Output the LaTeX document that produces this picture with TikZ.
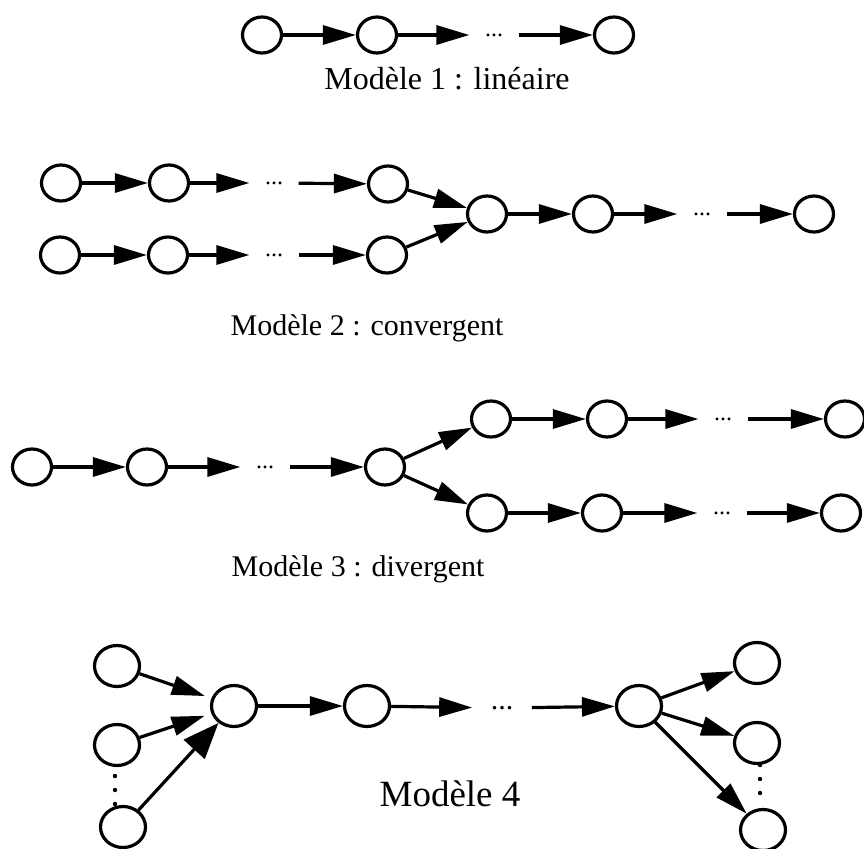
\documentclass[tikz,border=0pt]{standalone}
\usepackage{fontspec}
\setmainfont{Liberation Serif}
\usetikzlibrary{arrows.meta, shapes.geometric}

\begin{document}
\begin{tikzpicture}[x=1pt, y=-1pt, line width=3.2pt,
 main node/.style={ellipse,draw,minimum width=39pt,minimum height=36pt,inner sep=0pt},
 big node/.style={ellipse,draw,minimum width=45pt,minimum height=41pt,inner sep=0pt},
 etc node/.style={inner xsep=14pt,inner ysep=0pt,font=\fontsize{24}{24}\selectfont},
 arr/.style={-{Triangle[length=33pt,width=19pt]}},
 label text/.style={anchor=base,font=\fontsize{30}{36}\selectfont}]

  \useasboundingbox (0,0) rectangle (864,848);

  % modele 1
  \node[main node] (a1) at (262,35) {};
  \node[main node] (a2) at (377,35) {};
  \node[etc node]  (ad) at (494,35) {...};
  \node[main node] (a3) at (614,35) {};
  \node[label text, font=\fontsize{32}{38}\selectfont] (t1) at (447,90) {Modèle 1 : linéaire};

  % modele 2
  \node[main node] (b1) at (61,183) {};
  \node[main node] (b2) at (169,183) {};
  \node[etc node]  (bd) at (274,183) {...};
  \node[main node] (b3) at (388,184) {};
  \node[main node] (c1) at (60,255) {};
  \node[main node] (c2) at (168,255) {};
  \node[etc node]  (cd) at (274,255) {...};
  \node[main node] (c3) at (387,255) {};
  \node[main node] (b4) at (487,214) {};
  \node[main node] (b5) at (593,214) {};
  \node[etc node]  (be) at (702,214) {...};
  \node[main node] (b6) at (814,214) {};
  \node[label text] (t2) at (367,335) {Modèle 2 : convergent};

  % modele 3
  \node[main node] (d1) at (32,467) {};
  \node[main node] (d2) at (147,467) {};
  \node[etc node]  (dd) at (265,467) {...};
  \node[main node] (d3) at (385,467) {};
  \node[main node] (e1) at (491,419) {};
  \node[main node] (e2) at (607,419) {};
  \node[etc node]  (ed) at (723,419) {...};
  \node[main node] (e3) at (845,419) {};
  \node[main node] (f1) at (487,513) {};
  \node[main node] (f2) at (602,513) {};
  \node[etc node]  (fd) at (722,513) {...};
  \node[main node] (f3) at (841,513) {};
  \node[label text] (t3) at (358,576) {Modèle 3 : divergent};

  % modele 4
  \node[big node] (g1) at (117,666) {};
  \node[big node] (g2) at (117,745) {};
  \node[big node] (g3) at (123,827) {};
  \node[big node] (h1) at (234,706) {};
  \node[big node] (h2) at (367,706) {};
  \node[etc node, inner xsep=17pt, font=\fontsize{30}{30}\selectfont] (hd) at (502,708) {...};
  \node[big node] (h3) at (639,706) {};
  \node[big node] (k1) at (757,663) {};
  \node[big node] (k2) at (757,743) {};
  \node[big node] (k3) at (763,830) {};
  \node[label text, font=\fontsize{37}{44}\selectfont] (t4) at (450,806) {Modèle 4};

  \foreach \y in {776,790,804} \fill (115,\y) circle (2.2pt);
  \foreach \y in {765,779,793} \fill (760,\y) circle (2.2pt);

  \foreach \s/\t in {a1/a2, a2/ad, ad/a3, b1/b2, b2/bd, bd/b3, c1/c2, c2/cd, cd/c3,
   b3/b4, c3/b4, b4/b5, b5/be, be/b6, d1/d2, d2/dd, dd/d3, d3/e1, d3/f1, e1/e2, e2/ed,
   ed/e3, f1/f2, f2/fd, fd/f3, h1/h2, h2/hd, hd/h3, h3/k1, h3/k2, h3/k3} {
   \draw[arr] (\s) -- (\t);}
  \draw[arr, shorten >=7pt] (g1) -- (h1);
  \draw[arr, shorten >=7pt] (g2) -- (h1);
  \draw[-{Triangle[length=36pt,width=28pt]}] (g3) -- (h1);
\end{tikzpicture}
\end{document}
